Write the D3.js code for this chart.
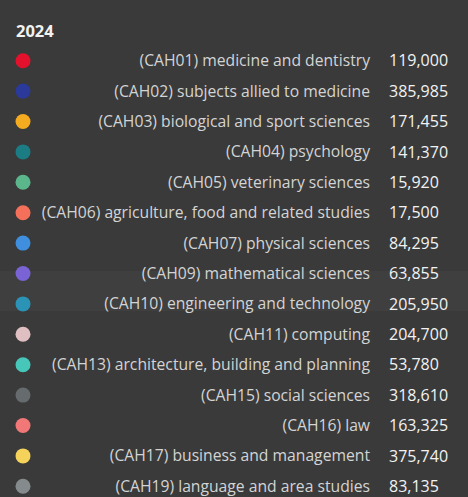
<!DOCTYPE html>
<html>
<head>
<meta charset="utf-8">
<script src="https://cdn.jsdelivr.net/npm/d3@7"></script>
<style>
  html, body { margin: 0; padding: 0; background: #3a3a3a; }
  svg { display: block; }
</style>
</head>
<body>
<svg class="chart"></svg>
<script>
const year = '2024';

const subjects = [
  '(CAH01) medicine and dentistry',
  '(CAH02) subjects allied to medicine',
  '(CAH03) biological and sport sciences',
  '(CAH04) psychology',
  '(CAH05) veterinary sciences',
  '(CAH06) agriculture, food and related studies',
  '(CAH07) physical sciences',
  '(CAH09) mathematical sciences',
  '(CAH10) engineering and technology',
  '(CAH11) computing',
  '(CAH13) architecture, building and planning',
  '(CAH15) social sciences',
  '(CAH16) law',
  '(CAH17) business and management',
  '(CAH19) language and area studies'
];

const values = [119000, 385985, 171455, 141370, 15920, 17500, 84295, 63855,
  205950, 204700, 53780, 318610, 163325, 375740, 83135];

const colors = ['#e4112d', '#2b3a9a', '#f5ab1f', '#1b7c84', '#5bb68c', '#f4705b',
  '#3f8fde', '#7a63d4', '#2a93b6', '#dfbfc1', '#47c7b9', '#666b6d', '#f27878',
  '#f5d25a', '#858a8c'];

const width = 468;
const height = 497;

const svg = d3.select('.chart')
  .attr('width', width)
  .attr('height', height);

const y = d3.scaleBand()
  .domain(subjects)
  .range([45.5, 501.5])
  .padding(0);

// faint header strip of the table behind the tooltip
svg.append('rect')
  .attr('x', 0).attr('y', 271)
  .attr('width', width).attr('height', 40)
  .attr('fill', '#3f3f3f');

svg.append('text')
  .attr('x', 16)
  .attr('y', 37)
  .attr('fill', '#f2f2f2')
  .style('font-family', '"Open Sans", sans-serif')
  .style('font-size', '16.5px')
  .style('font-weight', 'bold')
  .text(year);

const rows = svg.append('g')
  .selectAll('g')
  .data(subjects)
  .join('g')
  .attr('transform', (d) => 'translate(0,' + (y(d) + y.bandwidth() / 2) + ')');

rows.append('circle')
  .attr('cx', 23)
  .attr('cy', 0)
  .attr('r', 7.5)
  .attr('fill', (d, i) => colors[i]);

rows.append('text')
  .attr('x', 370)
  .attr('dy', '0.35em')
  .attr('text-anchor', 'end')
  .attr('fill', '#d4d4d4')
  .style('font-family', '"Open Sans", sans-serif')
  .style('font-size', '15.7px')
  .text((d) => d);

rows.append('text')
  .attr('x', 389)
  .attr('dy', '0.35em')
  .attr('fill', '#f2f2f2')
  .style('font-family', '"Open Sans", sans-serif')
  .style('font-size', '16px')
  .text((d, i) => d3.format(',')(values[i]));
</script>
</body>
</html>
